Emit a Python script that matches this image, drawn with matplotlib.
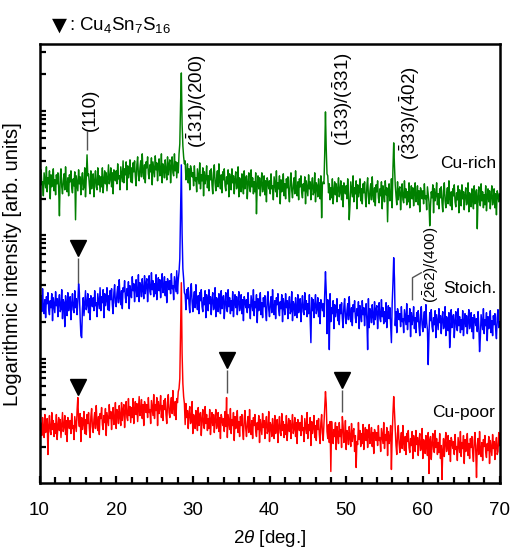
import numpy as np
import matplotlib
matplotlib.use('Agg')
import matplotlib.pyplot as plt

plt.rcParams['font.family'] = ['Liberation Sans', 'DejaVu Sans']
plt.rcParams['mathtext.fontset'] = 'custom'
plt.rcParams['mathtext.rm'] = 'Liberation Sans'
plt.rcParams['mathtext.it'] = 'Liberation Sans:italic'
plt.rcParams['mathtext.bf'] = 'Liberation Sans:bold'

# 2theta grid of the scans (deg.), 0.1 deg steps
two_theta = np.linspace(10, 70, 601)

# log intensity (arb. units, curves already stacked)
# one row per degree, 10..69, then the 70 deg point
cu_rich = [
    307, 294, 314, 299, 302, 288, 311, 304, 296, 317,
    292, 306, 300, 313, 285, 309, 297, 303, 315, 293,
    304, 289, 309, 300, 311, 295, 268, 307, 315, 297,
    290, 303, 310, 294, 317, 299, 292, 306, 288, 309,
    302, 313, 296, 291, 305, 298, 312, 264, 308, 301,
    293, 314, 300, 307, 289, 304, 311, 294, 297, 316,
    287, 306, 329, 308, 310, 299, 290, 313, 295, 305,
    310, 287, 303, 313, 297, 294, 316, 299, 308, 292,
    307, 297, 316, 291, 304, 313, 300, 311, 293, 306,
    319, 300, 305, 316, 297, 311, 290, 314, 310, 303,
    313, 300, 320, 305, 308, 294, 317, 310, 302, 323,
    301, 315, 309, 322, 294, 318, 306, 312, 324, 302,
    316, 301, 321, 312, 323, 307, 298, 319, 327, 309,
    303, 316, 323, 307, 330, 312, 305, 319, 301, 322,
    316, 327, 310, 305, 319, 312, 326, 299, 322, 315,
    307, 328, 314, 321, 303, 318, 325, 308, 311, 330,
    301, 320, 317, 306, 324, 313, 304, 327, 309, 319,
    324, 301, 317, 327, 311, 308, 330, 313, 322, 306,
    321, 311, 330, 340, 380, 411, 360, 338, 327, 320,
    323, 304, 309, 320, 301, 315, 294, 318, 314, 307,
    311, 298, 318, 303, 306, 292, 315, 308, 300, 321,
    295, 309, 303, 316, 288, 312, 300, 306, 318, 296,
    308, 293, 313, 304, 315, 299, 290, 311, 319, 301,
    293, 306, 313, 297, 320, 302, 295, 309, 291, 312,
    304, 315, 298, 293, 307, 300, 314, 287, 310, 303,
    294, 315, 301, 308, 290, 305, 312, 295, 298, 317,
    287, 306, 303, 292, 310, 299, 290, 313, 295, 305,
    308, 285, 301, 311, 295, 292, 314, 297, 306, 290,
    302, 292, 311, 270, 299, 308, 295, 306, 288, 301,
    311, 292, 297, 308, 289, 303, 282, 306, 302, 295,
    303, 290, 310, 295, 298, 284, 307, 300, 292, 313,
    287, 301, 295, 308, 280, 304, 292, 298, 310, 288,
    300, 285, 305, 296, 307, 291, 282, 303, 311, 293,
    286, 299, 306, 290, 313, 295, 288, 302, 284, 305,
    297, 308, 291, 286, 300, 293, 307, 280, 303, 296,
    288, 309, 295, 302, 284, 299, 306, 289, 292, 311,
    282, 301, 298, 287, 305, 294, 285, 308, 266, 300,
    302, 300, 330, 372, 335, 310, 308, 291, 300, 284,
    296, 286, 305, 280, 293, 302, 289, 300, 282, 295,
    306, 287, 292, 303, 284, 298, 277, 301, 297, 290,
    298, 285, 305, 290, 264, 279, 302, 295, 287, 308,
    282, 296, 290, 303, 275, 299, 287, 293, 305, 283,
    295, 280, 300, 291, 302, 286, 277, 298, 306, 288,
    280, 293, 300, 284, 307, 289, 282, 296, 278, 299,
    292, 303, 286, 281, 295, 288, 302, 275, 298, 291,
    282, 303, 289, 296, 262, 293, 300, 283, 286, 305,
    276, 315, 341, 318, 299, 288, 279, 302, 284, 294,
    297, 274, 290, 300, 284, 281, 303, 286, 295, 279,
    292, 282, 301, 276, 289, 298, 285, 296, 278, 291,
    301, 282, 287, 298, 279, 293, 272, 296, 292, 285,
    293, 280, 300, 285, 288, 274, 297, 290, 282, 258,
    278, 292, 286, 299, 271, 295, 283, 289, 301, 279,
    290, 275, 295, 286, 297, 281, 272, 293, 301, 283,
    276, 289, 296, 280, 303, 285, 278, 292, 274, 295,
    288, 299, 282, 277, 291, 284, 298, 271, 294, 287,
    278, 299, 285, 292, 274, 289, 296, 279, 282, 301,
    272, 291, 288, 277, 295, 284, 275, 298, 280, 290,
    294, 255, 287, 297, 281, 278, 300, 283, 292, 276,
    289, 279, 298, 273, 286, 295, 282, 293, 275, 288,
    298, 279, 284, 295, 276, 290, 269, 293, 289, 282,
    290,
]
stoich = [
    168, 181, 188, 172, 195, 177, 170, 184, 166, 187,
    180, 191, 174, 169, 183, 176, 190, 163, 186, 179,
    171, 192, 178, 185, 167, 182, 189, 172, 175, 194,
    165, 184, 181, 157, 188, 177, 168, 191, 173, 183,
    187, 164, 180, 190, 174, 171, 193, 176, 185, 169,
    182, 200, 191, 166, 148, 146, 175, 186, 168, 181,
    193, 174, 179, 190, 171, 185, 164, 188, 184, 177,
    186, 173, 193, 178, 181, 167, 190, 183, 175, 196,
    173, 187, 181, 194, 166, 190, 178, 184, 196, 174,
    188, 173, 193, 184, 195, 179, 170, 191, 199, 181,
    177, 190, 197, 181, 204, 186, 179, 193, 175, 196,
    192, 203, 186, 181, 195, 188, 202, 175, 198, 191,
    186, 207, 193, 200, 182, 197, 204, 187, 190, 209,
    182, 201, 198, 187, 205, 194, 185, 208, 190, 200,
    205, 182, 198, 208, 192, 189, 211, 194, 203, 187,
    200, 190, 209, 184, 197, 206, 193, 204, 186, 199,
    210, 191, 196, 207, 188, 202, 181, 205, 201, 194,
    203, 190, 210, 195, 198, 184, 207, 200, 192, 213,
    190, 204, 212, 225, 270, 319, 250, 215, 205, 191,
    189, 174, 194, 185, 196, 180, 171, 192, 200, 182,
    172, 185, 192, 176, 199, 181, 174, 188, 170, 191,
    183, 194, 177, 172, 186, 179, 193, 166, 189, 182,
    173, 194, 180, 187, 169, 184, 191, 174, 177, 196,
    167, 186, 183, 172, 190, 179, 170, 193, 175, 185,
    188, 165, 181, 191, 175, 172, 194, 177, 186, 170,
    183, 173, 192, 167, 180, 189, 176, 187, 169, 182,
    192, 173, 178, 189, 170, 184, 163, 187, 183, 176,
    184, 171, 191, 176, 179, 165, 188, 181, 173, 194,
    168, 182, 176, 189, 161, 185, 173, 179, 191, 169,
    181, 166, 186, 177, 188, 172, 163, 184, 192, 174,
    167, 180, 187, 171, 194, 176, 169, 183, 165, 186,
    179, 190, 173, 168, 182, 175, 189, 162, 185, 178,
    169, 190, 176, 183, 165, 180, 187, 170, 173, 192,
    163, 182, 179, 168, 186, 175, 166, 189, 171, 181,
    185, 162, 178, 188, 172, 169, 191, 174, 183, 167,
    180, 170, 189, 164, 141, 186, 173, 184, 166, 179,
    189, 170, 175, 186, 167, 181, 160, 184, 180, 173,
    180, 167, 190, 212, 192, 150, 184, 177, 134, 190,
    162, 176, 170, 183, 155, 179, 167, 173, 185, 163,
    174, 159, 179, 170, 181, 165, 156, 177, 185, 167,
    160, 173, 180, 164, 187, 169, 162, 176, 158, 179,
    172, 183, 166, 161, 175, 168, 182, 155, 178, 171,
    162, 183, 169, 176, 158, 173, 180, 163, 134, 185,
    156, 175, 172, 161, 179, 168, 159, 182, 164, 174,
    178, 155, 171, 181, 165, 162, 184, 167, 176, 160,
    172, 162, 181, 156, 169, 178, 165, 176, 158, 141,
    180, 200, 226, 205, 158, 172, 151, 175, 171, 164,
    170, 157, 177, 162, 165, 151, 174, 167, 159, 180,
    154, 168, 162, 175, 147, 171, 159, 165, 177, 155,
    166, 151, 171, 162, 173, 157, 148, 169, 177, 159,
    152, 165, 172, 156, 179, 161, 154, 119, 150, 171,
    163, 174, 157, 152, 166, 159, 173, 146, 169, 162,
    154, 175, 161, 168, 150, 165, 172, 155, 158, 177,
    148, 167, 164, 153, 171, 136, 151, 174, 156, 166,
    169, 146, 162, 172, 156, 153, 175, 158, 167, 151,
    164, 154, 173, 148, 161, 170, 157, 168, 150, 163,
    174, 155, 160, 171, 152, 166, 145, 169, 165, 158,
    165, 152, 172, 157, 132, 146, 169, 162, 154, 175,
    150, 164, 158, 171, 143, 167, 155, 161, 173, 151,
    163, 148, 168, 159, 170, 154, 145, 166, 174, 156,
    162,
]
cu_poor = [
    43, 62, 59, 48, 66, 55, 46, 69, 51, 61,
    65, 29, 58, 68, 52, 49, 71, 54, 63, 47,
    60, 50, 69, 44, 57, 66, 53, 64, 46, 59,
    71, 52, 57, 68, 49, 63, 42, 66, 62, 55,
    63, 50, 70, 55, 58, 44, 67, 60, 52, 73,
    86, 63, 57, 70, 42, 66, 54, 60, 72, 50,
    64, 49, 69, 60, 71, 55, 46, 67, 75, 57,
    51, 64, 71, 55, 78, 60, 53, 67, 49, 70,
    65, 76, 59, 54, 68, 61, 75, 48, 71, 64,
    58, 79, 65, 72, 54, 69, 76, 59, 62, 81,
    55, 74, 71, 60, 78, 67, 58, 81, 63, 73,
    79, 56, 72, 82, 66, 63, 85, 68, 77, 61,
    76, 66, 85, 60, 73, 82, 69, 80, 62, 75,
    87, 68, 73, 84, 65, 79, 58, 82, 78, 71,
    79, 66, 86, 71, 74, 60, 83, 76, 68, 89,
    65, 79, 73, 86, 58, 82, 70, 76, 88, 66,
    78, 63, 83, 74, 85, 69, 60, 81, 89, 71,
    66, 79, 86, 70, 93, 75, 68, 82, 64, 85,
    81, 92, 95, 105, 150, 201, 130, 100, 87, 80,
    59, 80, 66, 73, 55, 70, 77, 60, 63, 82,
    50, 69, 66, 55, 73, 62, 53, 76, 58, 68,
    71, 48, 64, 74, 58, 55, 77, 60, 69, 53,
    65, 55, 74, 49, 62, 71, 58, 69, 51, 64,
    74, 55, 60, 71, 52, 66, 45, 69, 65, 58,
    65, 52, 72, 57, 86, 46, 69, 62, 54, 75,
    50, 64, 58, 71, 43, 67, 55, 61, 73, 51,
    62, 47, 67, 58, 69, 53, 44, 65, 73, 55,
    47, 60, 67, 51, 74, 56, 49, 63, 45, 66,
    58, 69, 52, 47, 61, 54, 68, 41, 64, 57,
    49, 70, 56, 63, 45, 60, 67, 50, 53, 72,
    42, 61, 58, 47, 65, 54, 45, 68, 50, 60,
    64, 41, 57, 67, 51, 48, 70, 53, 62, 46,
    59, 49, 68, 43, 56, 65, 52, 63, 45, 58,
    69, 50, 55, 66, 47, 61, 40, 64, 60, 53,
    61, 48, 68, 53, 56, 42, 65, 58, 50, 71,
    45, 59, 53, 66, 38, 62, 50, 56, 68, 46,
    58, 43, 63, 54, 65, 49, 40, 61, 69, 51,
    43, 60, 78, 92, 80, 52, 45, 59, 41, 62,
    12, 62, 45, 40, 54, 47, 61, 34, 57, 50,
    40, 61, 47, 54, 36, 67, 58, 41, 44, 63,
    34, 53, 50, 39, 57, 46, 37, 60, 42, 52,
    55, 32, 48, 16, 42, 39, 61, 44, 53, 37,
    50, 40, 59, 34, 47, 56, 43, 54, 36, 49,
    59, 40, 45, 56, 37, 51, 30, 54, 50, 43,
    51, 38, 58, 43, 46, 32, 55, 48, 40, 61,
    35, 49, 43, 56, 28, 52, 40, 46, 58, 14,
    47, 70, 87, 72, 54, 38, 29, 50, 58, 40,
    31, 44, 51, 35, 58, 40, 33, 47, 29, 50,
    42, 53, 36, 31, 45, 38, 52, 25, 48, 41,
    32, 53, 39, 46, 28, 43, 50, 33, 36, 55,
    25, 44, 41, 30, 48, 37, 28, 51, 10, 43,
    47, 24, 40, 50, 34, 31, 53, 36, 45, 29,
    41, 31, 50, 25, 38, 4, 34, 45, 27, 40,
    51, 32, 37, 48, 29, 43, 22, 46, 42, 35,
    42, 29, 49, 34, 37, 23, 46, 39, 31, 52,
    27, 41, 35, 48, 20, 44, 32, 38, 50, 28,
    40, 25, 45, 36, 47, 31, 22, 43, 51, 33,
    6, 38, 45, 29, 52, 34, 27, 41, 23, 44,
    37, 48, 31, 26, 40, 33, 47, 20, 43, 36,
    28, 49, 35, 42, 24, 39, 46, 29, 32, 51,
    38,
]

# Cu4Sn7S16 reflections (triangles) and their sticks
phase_x = [15.0, 15.0, 34.5, 49.5]
phase_y = [236, 97, 124, 104]
stick_x = [15.0, 34.5, 49.5]
stick_top = [226, 114, 94]
stick_bottom = [201, 91, 72]

fig = plt.figure(figsize=(5.13, 5.54), dpi=100)
ax = fig.add_axes([0.077, 0.1273, 0.8967, 0.7933])

ax.plot(two_theta, cu_rich, color='#008000', lw=1.05)
ax.plot(two_theta, stoich, color='#0000ff', lw=1.05)
ax.plot(two_theta, cu_poor, color='#ff0000', lw=1.05)

ax.plot(phase_x, phase_y, 'kv', ms=11)
ax.vlines(stick_x, stick_bottom, stick_top, color='#555555', lw=1)
ax.vlines([16.25], 334, 353, color='#555555', lw=1)
ax.plot([58.65, 58.65, 59.8], [184, 206, 211], color='#555555', lw=1)

# peak labels
ax.text(16.7, 374, '(110)', rotation=90, ha='center', va='center', fontsize=13.5)
ax.text(30.5, 383, r'$(\bar{1}31)/(200)$', rotation=90, ha='center', va='center', fontsize=13.5)
ax.text(49.5, 385, r'$(\bar{1}33)/(\bar{3}31)$', rotation=90, ha='center', va='center', fontsize=13.5)
ax.text(58.25, 371, r'$(\bar{3}33)/(\bar{4}02)$', rotation=90, ha='center', va='center', fontsize=13.5)
ax.text(61.1, 219, r'$(\bar{2}62)/(400)$', rotation=90, ha='center', va='center', fontsize=11)

# sample labels
ax.text(69.6, 320, 'Cu-rich', ha='right', va='center', fontsize=12.5)
ax.text(69.6, 195, 'Stoich.', ha='right', va='center', fontsize=12.5)
ax.text(69.4, 71, 'Cu-poor', ha='right', va='center', fontsize=12.5)

fig.text(0.101, 0.955, '▼', ha='left', va='center', fontsize=14, family='DejaVu Sans')
fig.text(0.134, 0.955, ': Cu$_4$Sn$_7$S$_{16}$', ha='left', va='center', fontsize=13.5)

ax.set_xlim(10, 70)
ax.set_ylim(0, 440)
ax.set_xticks(np.arange(10, 71, 10))
ax.set_xticks(np.arange(10, 71, 2), minor=True)

# log-style ticks on the left for each stacked decade
yticks = [484 - 52, 484 - 74, 484 - 199, 484 - 322, 484 - 447]
for top in [107.5, 231.5, 355.5]:
    for k in range(2, 10):
        yticks.append(484 - (top + (1 - np.log10(k)) * 77))
ax.set_yticks(yticks)
ax.set_yticklabels([])

ax.tick_params(axis='x', which='major', direction='in', length=5, width=1.6, labelsize=13.5, pad=13)
ax.tick_params(axis='x', which='minor', direction='in', length=4, width=1.6)
ax.tick_params(axis='y', direction='in', length=4.5, width=1.6)
for s in ax.spines.values():
    s.set_linewidth(1.8)

ax.set_xlabel(r'2$\theta$ [deg.]', fontsize=13.5, labelpad=7)
ax.set_ylabel('Logarithmic intensity [arb. units]', fontsize=14.5, labelpad=9)

fig.savefig('out.png', dpi=100)
